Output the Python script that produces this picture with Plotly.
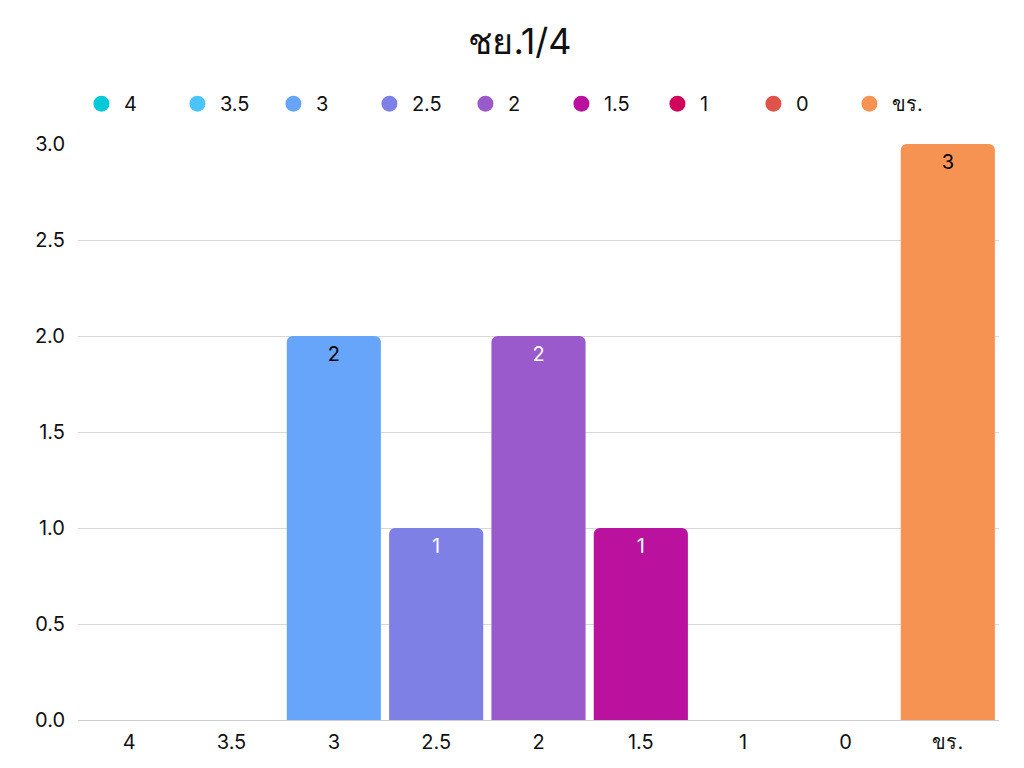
import plotly.graph_objects as go

# grades and counts for ชย.1/4
categories = ["4", "3.5", "3", "2.5", "2", "1.5", "1", "0", "ขร."]
counts = [0, 0, 2, 1, 2, 1, 0, 0, 3]
colors = ["#00c9d9", "#4bc4fb", "#66a5fa", "#7f80e6", "#9b5acc",
          "#ba129e", "#d0045a", "#e0534a", "#f79352"]
label_colors = ["black", "black", "black", "white", "white",
                "white", "white", "white", "black"]

font = "Inter, Roboto, 'Noto Sans', sans-serif"

fig = go.Figure()

fig.add_trace(go.Bar(
    x=categories,
    y=counts,
    marker=dict(color=colors, line=dict(width=0)),
    text=[str(c) if c else "" for c in counts],
    textposition="inside",
    insidetextanchor="end",
    textangle=0,
    insidetextfont=dict(size=20, color=label_colors, family=font),
    showlegend=False,
    hoverinfo="x+y",
))

# legend entries as circles
for name, col in zip(categories, colors):
    fig.add_trace(go.Scatter(
        x=[None], y=[None],
        mode="markers",
        name=name,
        marker=dict(symbol="circle", size=16, color=col),
    ))

fig.update_layout(
    width=1024,
    height=768,
    paper_bgcolor="white",
    plot_bgcolor="white",
    font=dict(family=font, size=20, color="#111111"),
    title=dict(text="ชย.1/4", x=0.5, xanchor="center", y=0.957, yanchor="middle",
               font=dict(size=36, color="#111111", family=font)),
    margin=dict(l=70, r=33, t=136, b=56),
    bargap=0.08,
    barcornerradius=6,
    legend=dict(orientation="h", x=0.001, xanchor="left", y=1.07, yanchor="middle",
                font=dict(size=20), itemwidth=35, entrywidth=46,
                entrywidthmode="pixels", traceorder="normal"),
    xaxis=dict(type="category", showgrid=False, ticks="", tickfont=dict(size=20),
               showline=False, ticklabelstandoff=8),
    yaxis=dict(range=[0, 3], dtick=0.5, tickformat=".1f", gridcolor="#d9d9d9",
               zeroline=True, zerolinecolor="#cccccc", zerolinewidth=1,
               tickfont=dict(size=20), ticks="", ticklabelstandoff=12),
)

fig.write_html("out.html")
